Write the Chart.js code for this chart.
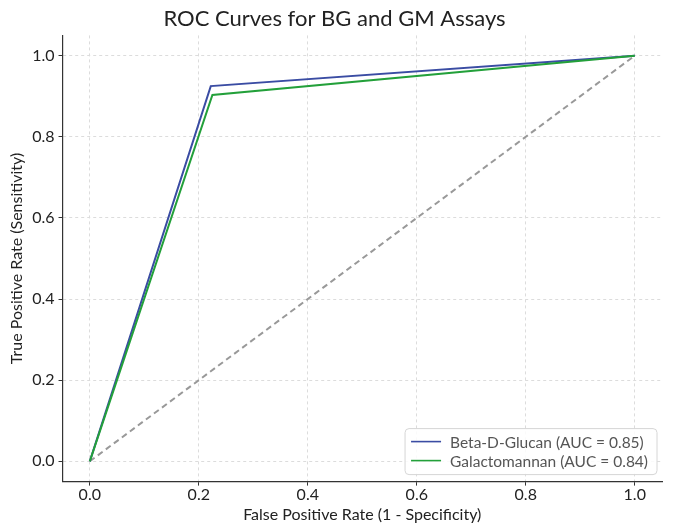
<!DOCTYPE html>
<html><head><meta charset="utf-8">
<script src="https://cdn.jsdelivr.net/npm/chart.js@4/dist/chart.umd.min.js"></script>
<style>html,body{margin:0;padding:0;background:#fff}#wrap{width:678px;height:525px}</style>
</head><body><div id="wrap"><canvas id="c" width="678" height="525"></canvas></div>
<script>
const titleText = "ROC Curves for BG and GM Assays";
const xLabel = "False Positive Rate (1 - Specificity)";
const yLabel = "True Positive Rate (Sensitivity)";
const tickValues = [0, 0.2, 0.4, 0.6, 0.8, 1.0];
const bgFpr = [0, 0.222, 1];
const bgTpr = [0, 0.925, 1];
const gmFpr = [0, 0.225, 1];
const gmTpr = [0, 0.903, 1];
const chanceFpr = [0, 1];
const chanceTpr = [0, 1];
const seriesLabels = ["Beta-D-Glucan (AUC = 0.85)", "Galactomannan (AUC = 0.84)"];

const FONT = "Lato, 'Open Sans', sans-serif";
const pts = (xs, ys) => xs.map((x, i) => ({x, y: ys[i]}));

const legendPlugin = {
  id: 'innerLegend',
  afterDraw(chart) {
    const ctx = chart.ctx, a = chart.chartArea;
    const items = chart.data.datasets.filter(d => !d.hideLegend);
    ctx.save();
    ctx.font = "15.5px " + FONT;
    let tw = 0;
    items.forEach(d => tw = Math.max(tw, ctx.measureText(d.label).width));
    const w = tw + 54, h = 46;
    const x0 = a.right - 5 - w, y0 = a.bottom - 7 - h;
    ctx.beginPath();
    if (ctx.roundRect) ctx.roundRect(x0, y0, w, h, 4); else ctx.rect(x0, y0, w, h);
    ctx.fillStyle = "rgba(255,255,255,0.85)";
    ctx.fill();
    ctx.strokeStyle = "#d6d6d6";
    ctx.lineWidth = 1;
    ctx.stroke();
    items.forEach((d, i) => {
      const yy = y0 + 13 + i * 19;
      ctx.beginPath();
      ctx.moveTo(x0 + 6, yy); ctx.lineTo(x0 + 36, yy);
      ctx.strokeStyle = d.borderColor; ctx.lineWidth = 1.6; ctx.stroke();
      ctx.fillStyle = "#555";
      ctx.textBaseline = "middle";
      ctx.fillText(d.label, x0 + 45, yy + 1);
    });
    ctx.restore();
  }
};

new Chart(document.getElementById('c'), {
  type: 'scatter',
  data: {
    datasets: [
      {label: "chance", hideLegend: true, data: pts(chanceFpr, chanceTpr), showLine: true,
       borderColor: "#999999", borderWidth: 2, borderDash: [6, 4], pointRadius: 0, order: 3},
      {label: seriesLabels[0], data: pts(bgFpr, bgTpr), showLine: true,
       borderColor: "#3a4ca3", borderWidth: 2, pointRadius: 0, order: 2},
      {label: seriesLabels[1], data: pts(gmFpr, gmTpr), showLine: true,
       borderColor: "#23a03a", borderWidth: 2, pointRadius: 0, order: 1}
    ]
  },
  options: {
    responsive: false, animation: false,
    layout: {padding: {left: 7, right: 16, top: 0, bottom: 1}},
    plugins: {
      legend: {display: false}, tooltip: {enabled: false},
      title: {display: true, text: titleText, color: "#222", font: {family: FONT, size: 22, weight: 'normal'}, padding: {top: 6, bottom: 3}}
    },
    scales: {
      x: {
        type: 'linear', min: -0.05, max: 1.05,
        afterBuildTicks: s => { s.ticks = tickValues.map(v => ({value: v})); },
        ticks: {callback: v => v.toFixed(1), color: "#222", font: {family: FONT, size: 16}, padding: 0, maxRotation: 0, autoSkip: false},
        grid: {color: "#dcdcdc", tickBorderDash: [], tickColor: "#333", tickLength: 4, tickWidth: 1},
        border: {display: true, color: "#333", width: 1.2, dash: [3, 3]},
        title: {display: true, text: xLabel, color: "#222", font: {family: FONT, size: 16}, padding: {top: 0, bottom: 0}}
      },
      y: {
        type: 'linear', min: -0.05, max: 1.05,
        afterBuildTicks: s => { s.ticks = tickValues.map(v => ({value: v})); },
        ticks: {callback: v => v.toFixed(1), color: "#222", font: {family: FONT, size: 16}, padding: 4, autoSkip: false},
        grid: {color: "#dcdcdc", tickBorderDash: [], tickColor: "#333", tickLength: 4, tickWidth: 1},
        border: {display: true, color: "#333", width: 1.2, dash: [3, 3]},
        title: {display: true, text: yLabel, color: "#222", font: {family: FONT, size: 16}, padding: {top: 0, bottom: 2}}
      }
    }
  },
  plugins: [legendPlugin]
});
</script></body></html>
